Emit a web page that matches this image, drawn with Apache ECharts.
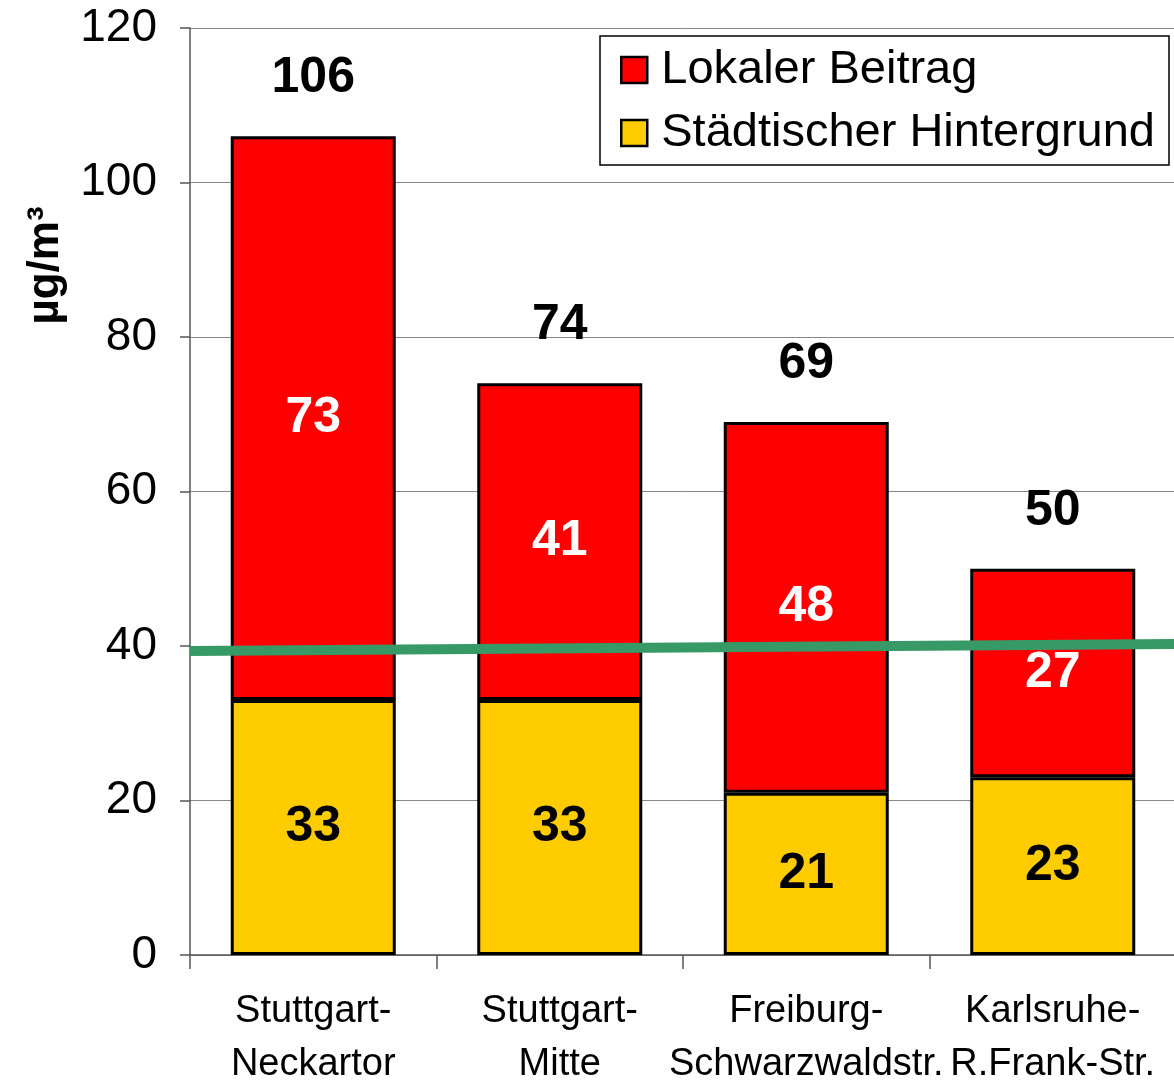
<!DOCTYPE html>
<html>
<head>
<meta charset="utf-8">
<script src="https://cdn.jsdelivr.net/npm/echarts@6/dist/echarts.min.js"></script>
<style>
  html, body { margin: 0; padding: 0; background: #fff; }
  #chart { width: 1174px; height: 1088px; }
</style>
</head>
<body>
<div id="chart"></div>
<script>
// stations along the x axis
const stations = [
  'Stuttgart-\nNeckartor',
  'Stuttgart-\nMitte',
  'Freiburg-\nSchwarzwaldstr.',
  'Karlsruhe-\nR.Frank-Str.'
];
const background = [33, 33, 21, 23];   // Städtischer Hintergrund
const local = [73, 41, 48, 27];        // Lokaler Beitrag
const totals = [106, 74, 69, 50];
// limit line, drawn slightly sloped in the original
const limitLine = [[0, 39.35], [1, 40.25]];

const chart = echarts.init(document.getElementById('chart'));

const bold = { fontFamily: 'Liberation Sans, Arial, sans-serif', fontWeight: 'bold', fontSize: 50 };

chart.setOption({
  animation: false,
  textStyle: { fontFamily: 'Liberation Sans, Arial, sans-serif' },
  grid: { left: 190, right: -2, top: 28, bottom: 133, outerBoundsMode: 'none', containLabel: false },
  legend: {
    orient: 'vertical',
    left: 600,
    top: 36,
    padding: [10, 14, 8, 20],
    backgroundColor: '#fff',
    borderColor: '#000',
    borderWidth: 1.5,
    itemWidth: 26,
    itemHeight: 26,
    itemGap: 15,
    icon: 'rect',
    data: ['Lokaler Beitrag', 'Städtischer Hintergrund'],
    textStyle: { fontSize: 47, lineHeight: 48, color: '#000', padding: [0, 0, 0, 9] },
    itemStyle: { borderColor: '#000', borderWidth: 2.5 }
  },
  xAxis: [{
    type: 'category',
    data: stations,
    axisLine: { lineStyle: { color: '#555', width: 1.5 } },
    axisTick: { show: true, interval: 0, length: 14, lineStyle: { color: '#555', width: 1.5 } },
    axisLabel: {
      interval: 0,
      hideOverlap: false,
      color: '#000',
      fontFamily: 'Liberation Sans Narrow, Arial Narrow, Liberation Sans, sans-serif',
      fontSize: 38,
      lineHeight: 53,
      margin: 30
    }
  }, {
    type: 'value',
    min: 0,
    max: 1,
    show: false
  }],
  yAxis: {
    type: 'value',
    min: 0,
    max: 120,
    interval: 20,
    name: 'µg/m³',
    nameLocation: 'middle',
    nameGap: 122,
    nameTextStyle: { fontSize: 44, fontWeight: 'bold', color: '#000', padding: [0, 0, 0, 452] },
    axisLine: { show: true, lineStyle: { color: '#555', width: 1.5 } },
    axisTick: { show: true, length: 10, lineStyle: { color: '#555', width: 1.5 } },
    axisLabel: { color: '#000', fontSize: 46, margin: 33 },
    splitLine: { lineStyle: { color: '#888', width: 1 } }
  },
  series: [{
    name: 'Städtischer Hintergrund',
    type: 'bar',
    stack: 'total',
    barWidth: 165,
    data: background,
    itemStyle: { color: '#ffcc00', borderColor: '#000', borderWidth: 3 },
    label: { show: true, position: 'inside', color: '#000', ...bold }
  }, {
    name: 'Lokaler Beitrag',
    type: 'bar',
    stack: 'total',
    barWidth: 165,
    data: local,
    itemStyle: { color: '#ff0000', borderColor: '#000', borderWidth: 3 },
    label: { show: true, position: 'inside', color: '#fff', ...bold }
  }, {
    name: 'Summe',
    type: 'bar',
    stack: 'total',
    barWidth: 165,
    data: totals.map(() => 0),
    itemStyle: { color: 'transparent' },
    label: {
      show: true,
      position: 'top',
      distance: 33,
      color: '#000',
      ...bold,
      formatter: (p) => totals[p.dataIndex]
    }
  }, {
    name: 'Grenzwert',
    type: 'line',
    xAxisIndex: 1,
    data: limitLine,
    symbol: 'none',
    lineStyle: { color: '#379966', width: 10 },
    z: 5
  }]
});
</script>
</body>
</html>
